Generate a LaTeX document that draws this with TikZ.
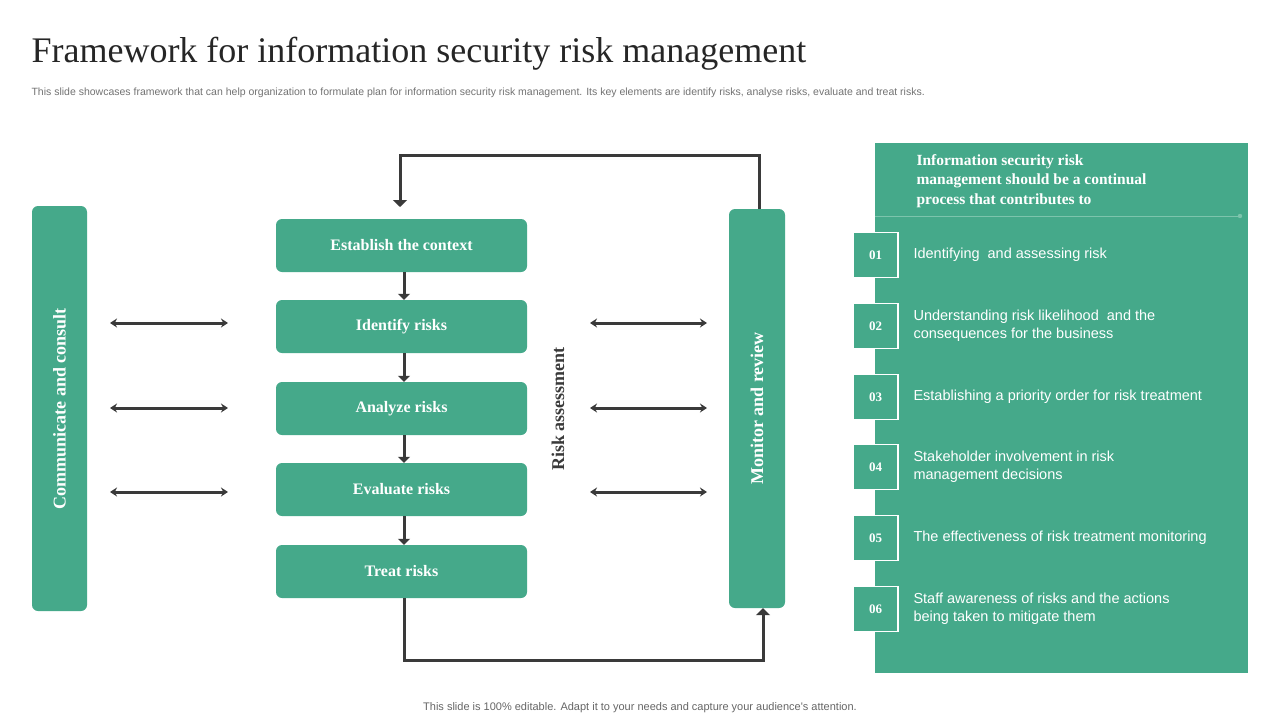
\documentclass[tikz,border=0pt]{standalone}
\usepackage{fontspec}
\setmainfont{Liberation Serif}
\newfontfamily\sansf{Liberation Sans}
\usetikzlibrary{arrows.meta}
\definecolor{grn}{HTML}{45A98A}
\definecolor{drk}{HTML}{3A3A3A}
\definecolor{lgrn}{HTML}{7CC4AC}
\tikzset{
  stepbox/.style={fill=grn,rounded corners=6pt,minimum width=251pt,minimum height=53pt,text=white,font=\bfseries\fontsize{16}{19}\selectfont},
  bar/.style={fill=grn,rounded corners=6pt,text=white,font=\bfseries\fontsize{18}{21}\selectfont},
  darr/.style={draw=drk,line width=3pt,{Stealth[length=7pt,width=9pt]}-{Stealth[length=7pt,width=9pt]}},
  varr/.style={draw=drk,line width=3pt,-{Triangle[length=7pt,width=14pt]}},
  numbox/.style={fill=grn,draw=white,line width=1.5pt,minimum size=45pt,text=white,font=\bfseries\fontsize{13}{15}\selectfont},
  item/.style={anchor=west,text=white,font=\sansf\fontsize{14.5}{18}\selectfont,align=left}
}
\begin{document}
\begin{tikzpicture}[x=1pt,y=-1pt]
\useasboundingbox[fill=white] (0,0) rectangle (1280,720);
\node[anchor=base west,font=\fontsize{36}{40}\selectfont,text=black!85] (title) at (28,62) {Framework for information security risk management};
\node[anchor=base west,font=\sansf\fontsize{10.5}{12}\selectfont,text=black!55] (sub) at (28,95) {This slide showcases framework that can help organization to formulate plan for information security risk management. Its key elements are identify risks, analyse risks, evaluate and treat risks.};
% left bar
\node[bar,minimum width=55pt,minimum height=405pt] (cc) at (59.5,408.5) {};
\node[rotate=90,text=white,font=\bfseries\fontsize{18}{21}\selectfont] (cct) at (cc) {Communicate and consult};
% monitor bar
\node[bar,minimum width=56pt,minimum height=399pt] (mr) at (757,408.5) {};
\node[rotate=90,text=white,font=\bfseries\fontsize{18}{21}\selectfont] (mrt) at (mr) {Monitor and review};
% steps
\node[stepbox] (s1) at (401.5,245.5) {Establish the context};
\node[stepbox] (s2) at (401.5,326.5) {Identify risks};
\node[stepbox] (s3) at (401.5,408.5) {Analyze risks};
\node[stepbox] (s4) at (401.5,489.5) {Evaluate risks};
\node[stepbox] (s5) at (401.5,571.5) {Treat risks};
\foreach \a/\b in {s1/s2,s2/s3,s3/s4,s4/s5}{
  \draw[draw=drk,line width=3pt,-{Triangle[length=6pt,width=12pt]}] ([xshift=2.5pt]\a.south) -- ([xshift=2.5pt]\b.north);
}
\node[rotate=90,text=drk,font=\bfseries\fontsize{18}{21}\selectfont] (ra) at (558,409) {Risk assessment};
% double arrows
\foreach \y [count=\i] in {323,408,492}{
  \coordinate (la\i) at (110,\y); \coordinate (lb\i) at (228,\y);
  \coordinate (ra\i) at (590,\y); \coordinate (rb\i) at (707,\y);
  \draw[darr] (la\i) -- (lb\i);
  \draw[darr] (ra\i) -- (rb\i);
}
% loops
\coordinate (t1) at (759,155); \coordinate (t2) at (400,155);
\draw[varr] (mr.north -| 759,0) -- (t1) -- (t2) -- (400,207);
\coordinate (b1) at (404,660); \coordinate (b2) at (763,660);
\draw[varr] (s5.south -| b1) -- (b1) -- (b2) -- (mr.south -| b2);
% right panel
\fill[grn] (875,143) rectangle (1248,673);
\node[anchor=north west,align=left,text=white,font=\bfseries\fontsize{15.5}{19.5}\selectfont] (hd) at (913,151) {Information security risk\\management should be a continual\\process that contributes to};
\draw[lgrn,line width=0.8pt] (875,216) -- (1240,216);
\fill[lgrn] (1240,216) circle (2.2pt);
\foreach \y/\n/\t in {255/01/{Identifying\ \ and assessing risk},
  326/02/{Understanding risk likelihood\ \ and the\\consequences for the business},
  397/03/{Establishing a priority order for risk treatment},
  467/04/{Stakeholder involvement\ in risk\\management decisions},
  538/05/{The effectiveness of risk treatment monitoring},
  609/06/{Staff awareness of risks and the actions\\being taken to mitigate them}}{
  \node[numbox] (n\n) at (875.5,\y) {\n};
  \node[item] (it\n) at (910,\y) {\t};
}
\node[font=\sansf\fontsize{11}{13}\selectfont,text=black!60] (ft) at (640,708) {This slide is 100\% editable. Adapt it to your needs and capture your audience's attention.};
\end{tikzpicture}
\end{document}
